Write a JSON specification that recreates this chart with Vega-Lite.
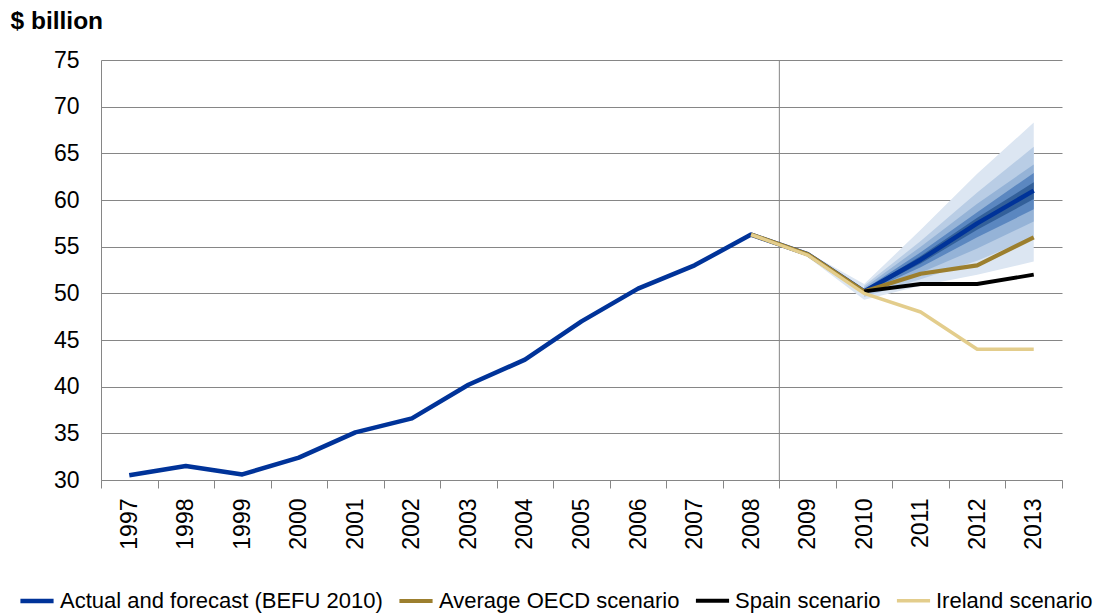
{
  "$schema": "https://vega.github.io/schema/vega-lite/v6.json",
  "autosize": {"type": "none"},
  "width": 961,
  "height": 420,
  "padding": {"left": 101, "top": 60, "right": 36, "bottom": 134},
  "background": "white",
  "config": {
    "font": "Liberation Sans",
    "view": {"stroke": null}
  },
  "datasets": {
    "lines": [
      {"year": "1997", "series": "Actual and forecast (BEFU 2010)", "value": 30.5},
      {"year": "1998", "series": "Actual and forecast (BEFU 2010)", "value": 31.5},
      {"year": "1999", "series": "Actual and forecast (BEFU 2010)", "value": 30.6},
      {"year": "2000", "series": "Actual and forecast (BEFU 2010)", "value": 32.4},
      {"year": "2001", "series": "Actual and forecast (BEFU 2010)", "value": 35.1},
      {"year": "2002", "series": "Actual and forecast (BEFU 2010)", "value": 36.6},
      {"year": "2003", "series": "Actual and forecast (BEFU 2010)", "value": 40.2},
      {"year": "2004", "series": "Actual and forecast (BEFU 2010)", "value": 42.9},
      {"year": "2005", "series": "Actual and forecast (BEFU 2010)", "value": 47.0},
      {"year": "2006", "series": "Actual and forecast (BEFU 2010)", "value": 50.5},
      {"year": "2007", "series": "Actual and forecast (BEFU 2010)", "value": 53.0},
      {"year": "2008", "series": "Actual and forecast (BEFU 2010)", "value": 56.3},
      {"year": "2009", "series": "Actual and forecast (BEFU 2010)", "value": 54.2},
      {"year": "2010", "series": "Actual and forecast (BEFU 2010)", "value": 50.2},
      {"year": "2011", "series": "Actual and forecast (BEFU 2010)", "value": 53.6},
      {"year": "2012", "series": "Actual and forecast (BEFU 2010)", "value": 57.5},
      {"year": "2013", "series": "Actual and forecast (BEFU 2010)", "value": 61.0},
      {"year": "2008", "series": "Average OECD scenario", "value": 56.3},
      {"year": "2009", "series": "Average OECD scenario", "value": 54.2},
      {"year": "2010", "series": "Average OECD scenario", "value": 50.2},
      {"year": "2011", "series": "Average OECD scenario", "value": 52.1},
      {"year": "2012", "series": "Average OECD scenario", "value": 53.0},
      {"year": "2013", "series": "Average OECD scenario", "value": 56.0},
      {"year": "2010", "series": "Spain scenario", "value": 50.2},
      {"year": "2011", "series": "Spain scenario", "value": 51.0},
      {"year": "2012", "series": "Spain scenario", "value": 51.0},
      {"year": "2013", "series": "Spain scenario", "value": 52.0},
      {"year": "2008", "series": "Ireland scenario", "value": 56.3},
      {"year": "2009", "series": "Ireland scenario", "value": 54.1},
      {"year": "2010", "series": "Ireland scenario", "value": 50.0},
      {"year": "2011", "series": "Ireland scenario", "value": 48.0},
      {"year": "2012", "series": "Ireland scenario", "value": 44.0},
      {"year": "2013", "series": "Ireland scenario", "value": 44.0}
    ],
    "bands": [
      {"year": "2009", "band": "b1", "lo": 53.9, "hi": 54.4},
      {"year": "2010", "band": "b1", "lo": 49.3, "hi": 51.0},
      {"year": "2011", "band": "b1", "lo": 50.8, "hi": 56.8},
      {"year": "2012", "band": "b1", "lo": 52.0, "hi": 62.8},
      {"year": "2013", "band": "b1", "lo": 53.4, "hi": 68.3},
      {"year": "2010", "band": "b2", "lo": 49.6, "hi": 50.8},
      {"year": "2011", "band": "b2", "lo": 51.5, "hi": 55.6},
      {"year": "2012", "band": "b2", "lo": 53.5, "hi": 60.8},
      {"year": "2013", "band": "b2", "lo": 56.0, "hi": 65.7},
      {"year": "2010", "band": "b3", "lo": 49.8, "hi": 50.6},
      {"year": "2011", "band": "b3", "lo": 52.2, "hi": 55.0},
      {"year": "2012", "band": "b3", "lo": 54.8, "hi": 59.6},
      {"year": "2013", "band": "b3", "lo": 57.7, "hi": 63.8},
      {"year": "2010", "band": "b4", "lo": 50.0, "hi": 50.4},
      {"year": "2011", "band": "b4", "lo": 52.8, "hi": 54.4},
      {"year": "2012", "band": "b4", "lo": 56.0, "hi": 58.7},
      {"year": "2013", "band": "b4", "lo": 59.0, "hi": 62.9},
      {"year": "2010", "band": "b5", "lo": 50.1, "hi": 50.3},
      {"year": "2011", "band": "b5", "lo": 53.2, "hi": 54.0},
      {"year": "2012", "band": "b5", "lo": 56.8, "hi": 58.1},
      {"year": "2013", "band": "b5", "lo": 60.1, "hi": 61.9}
    ]
  },
  "layer": [
    {
      "data": {"name": "bands"},
      "mark": {"type": "area", "opacity": 1},
      "encoding": {
        "x": {"field": "year", "type": "ordinal", "bandPosition": 0.5},
        "y": {"field": "lo", "type": "quantitative"},
        "y2": {"field": "hi"},
        "fill": {
          "field": "band", "type": "nominal",
          "scale": {"domain": ["b1", "b2", "b3", "b4", "b5"], "range": ["#dce6f2", "#b9cde5", "#95b3d7", "#5b87c0", "#33609a"]},
          "legend": null
        },
        "order": {"field": "band"}
      }
    },
    {
      "data": {"values": [{"year": "2009"}]},
      "mark": {"type": "rule", "color": "#868686", "strokeWidth": 1},
      "encoding": {
        "x": {"field": "year", "type": "ordinal", "bandPosition": 0},
        "y": {"datum": 75},
        "y2": {"datum": 30}
      }
    },
    {
      "data": {"name": "lines"},
      "mark": {"type": "line", "strokeJoin": "round", "strokeCap": "butt"},
      "encoding": {
        "x": {
          "field": "year", "type": "ordinal", "bandPosition": 0.5,
          "scale": {"type": "band", "paddingInner": 0, "paddingOuter": 0, "domain": ["1997","1998","1999","2000","2001","2002","2003","2004","2005","2006","2007","2008","2009","2010","2011","2012","2013"]},
          "axis": {
            "title": null,
            "labelAngle": -90,
            "labelAlign": "right",
            "labelBaseline": "middle",
            "labelFontSize": 23,
            "labelColor": "#000000",
            "labelPadding": 10,
            "tickBand": "extent",
            "tickSize": 8,
            "tickColor": "#868686",
            "domainColor": "#868686",
            "grid": false
          }
        },
        "y": {
          "field": "value", "type": "quantitative",
          "scale": {"domain": [30, 75], "nice": false, "zero": false},
          "axis": {
            "values": [30, 35, 40, 45, 50, 55, 60, 65, 70, 75],
            "title": "$ billion",
            "titleAngle": 0,
            "titleAlign": "left",
            "titleBaseline": "alphabetic",
            "titleX": -91,
            "titleY": -32,
            "titleFontSize": 24.5,
            "titleFontWeight": "bold",
            "titleColor": "#000000",
            "labelFontSize": 23,
            "labelColor": "#000000",
            "labelPadding": 22,
            "ticks": false,
            "grid": true,
            "gridColor": "#868686",
            "gridWidth": 1,
            "domainColor": "#868686"
          }
        },
        "color": {
          "field": "series", "type": "nominal",
          "scale": {
            "domain": ["Actual and forecast (BEFU 2010)", "Average OECD scenario", "Spain scenario", "Ireland scenario"],
            "range": ["#003399", "#9c7f2e", "#000000", "#e3cd8c"]
          },
          "legend": {
            "title": null,
            "orient": "none",
            "direction": "horizontal",
            "legendX": -83,
            "legendY": 522,
            "symbolType": "stroke",
            "symbolSize": 1100,
            "symbolStrokeWidth": 4,
            "labelFontSize": 22,
            "labelColor": "#000000",
            "labelOffset": 4,
            "columnPadding": 8,
            "labelLimit": 400
          }
        },
        "strokeWidth": {
          "field": "series", "type": "nominal",
          "scale": {
            "domain": ["Actual and forecast (BEFU 2010)", "Average OECD scenario", "Spain scenario", "Ireland scenario"],
            "range": [4.5, 3.5, 3.5, 3.5]
          },
          "legend": null
        },
        "order": {"field": "year"}
      }
    }
  ]
}
